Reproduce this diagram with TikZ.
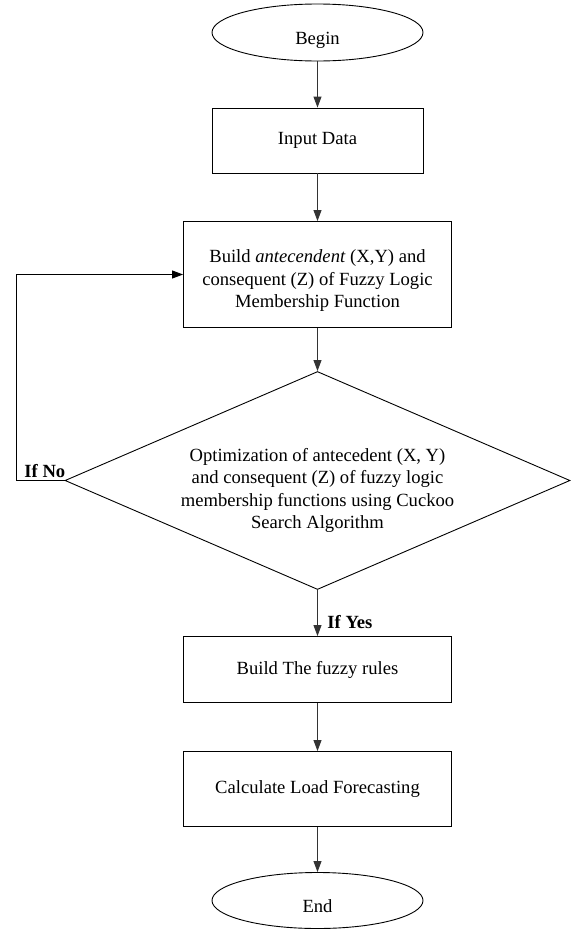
\documentclass[tikz,border=0pt]{standalone}
\usepackage{fontspec}
\setmainfont{Liberation Serif}
\usepackage{tikz}
\usetikzlibrary{shapes.geometric,arrows.meta}

\begin{document}
\begin{tikzpicture}[x=1pt,y=1pt,font=\fontsize{18.6}{22.5}\selectfont,align=center,line width=0.9pt,>={Triangle[length=11pt,width=8pt]}]
    \useasboundingbox (0,0) rectangle (573,-932);
    \node [ellipse,draw,inner sep=0pt,text height=28pt,text depth=4pt,minimum width=211pt,minimum height=57pt] (begin) at (317.5,-32.5) {Begin};
    \node [rectangle,draw,minimum width=211pt,minimum height=65pt, below of=begin,node distance=108pt] (inputData) {Input Data};
    \node [rectangle,draw,minimum width=268pt,minimum height=106pt, below of=inputData,node distance=134pt] (buildMembership) {\rule{0pt}{25pt}Build \textit{antecendent} (X,Y) and\\consequent (Z) of Fuzzy Logic\\Membership Function};
    \node [diamond,draw,inner sep=0pt,minimum width=505pt,minimum height=218pt, below of=buildMembership,node distance=206pt,
           label={[yshift=-10pt,align=center]center:Optimization of antecedent (X, Y)\\and consequent (Z) of fuzzy logic\\membership functions using Cuckoo\\Search Algorithm}] (optimizeCuckoo) {};
    \node [rectangle,draw,minimum width=268pt,minimum height=66pt, below of=optimizeCuckoo,node distance=189pt] (buildRules) {Build The fuzzy rules};
    \node [rectangle,draw,minimum width=268pt,minimum height=75pt, below of=buildRules,node distance=119.5pt] (calcForecast) {Calculate Load Forecasting};
    \node [ellipse,draw,inner sep=0pt,text height=28pt,text depth=4pt,minimum width=211pt,minimum height=56pt, below of=calcForecast,node distance=111.5pt] (end) {End};
    \node [anchor=base west,inner sep=0pt,font=\fontsize{18.6}{22.5}\selectfont\bfseries] (ifYes) at (327,-628) {If Yes};
    \node [anchor=base west,inner sep=0pt,font=\fontsize{18.6}{22.5}\selectfont\bfseries] (ifNo) at (24,-477) {If No};
    \draw [->,black!80] (begin) -- (inputData);
    \draw [->,black!80] (inputData) -- (buildMembership);
    \draw [->,black!80] (buildMembership) -- (optimizeCuckoo);
    \draw [->,black!80] (optimizeCuckoo) -- (buildRules);
    \draw [->,black!80] (buildRules) -- (calcForecast);
    \draw [->,black!80] (calcForecast) -- (end);
    \draw [->] (optimizeCuckoo.west) -- ++(-48,0) |- (buildMembership.west);
  \end{tikzpicture}
\end{document}
